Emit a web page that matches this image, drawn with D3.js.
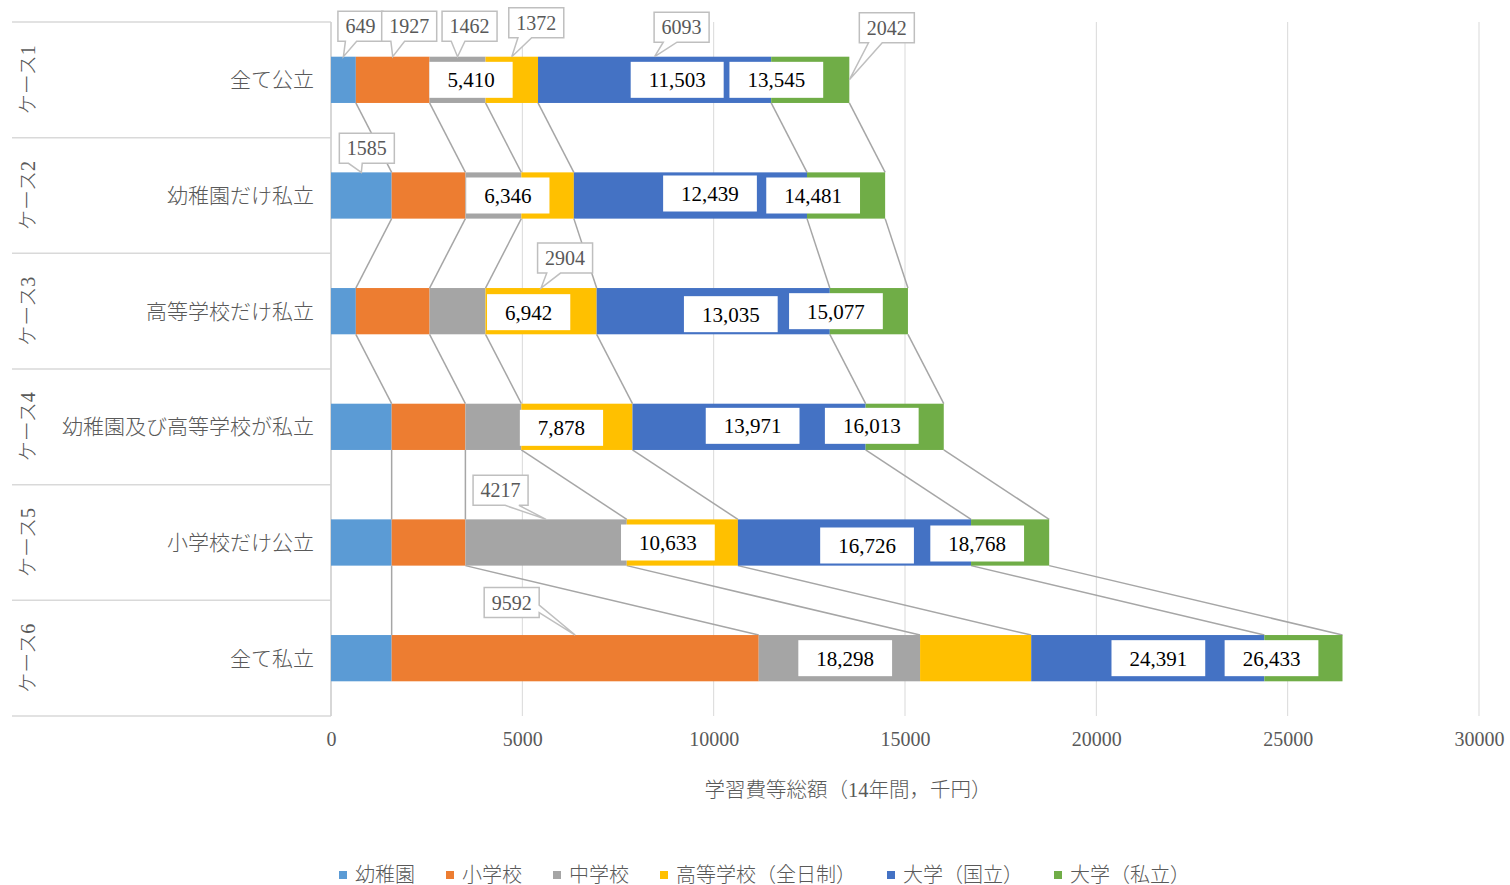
<!DOCTYPE html>
<html>
<head>
<meta charset="utf-8">
<script src="https://cdn.jsdelivr.net/npm/d3@7"></script>
<style>
  html, body { margin: 0; padding: 0; background: #fff; }
  svg text { font-family: 'Liberation Serif', 'Times New Roman', 'Noto Sans CJK JP', serif; }
  .jp { font-weight: 300; }
</style>
</head>
<body>
<svg id="chart" width="1510" height="885"></svg>
<script>
// ---- data ----
const caseIds   = ["ケース1", "ケース2", "ケース3", "ケース4", "ケース5", "ケース6"];
const caseNames = ["全て公立", "幼稚園だけ私立", "高等学校だけ私立", "幼稚園及び高等学校が私立", "小学校だけ公立", "全て私立"];
const seriesNames = ["幼稚園", "小学校", "中学校", "高等学校（全日制）", "大学（国立）", "大学（私立）"];

// cost per stage, thousand yen (one entry per case)
const kindergarten = [649, 1585, 649, 1585, 1585, 1585];
const elementary   = [1927, 1927, 1927, 1927, 1927, 9592];
const juniorHigh   = [1462, 1462, 1462, 1462, 4217, 4217];
const highSchool   = [1372, 1372, 2904, 2904, 2904, 2904];
const univNational = [6093, 6093, 6093, 6093, 6093, 6093];
const univPrivate  = [2042, 2042, 2042, 2042, 2042, 2042];

const xTicks = [0, 5000, 10000, 15000, 20000, 25000, 30000];
const xTitle = "学習費等総額（14年間，千円）";

// ---- styling / layout ----
const colors = ["#5B9BD5", "#ED7D31", "#A5A5A5", "#FFC000", "#4472C4", "#70AD47"];
const seriesValues = [kindergarten, elementary, juniorHigh, highSchool, univNational, univPrivate];

// running-total labels are shown for these series (boxed, inside the bar)
const totalLabelSeries = [3, 4, 5];
const totalLabelDx = [
  [-67, -94, -73],
  [-66, -97, -72],
  [-68, -99, -72],
  [-71, -113, -72],
  [-70, -104, -72],
  [-186, -106, -71]
];
const totalLabelDy = [
  [0, 0, 0],
  [0, -2, 0],
  [1, 3, 0],
  [1, -1, -1],
  [0, 3, 1],
  [0, 0, 0]
];

// callouts for single-segment values: case, series, anchor point, box offset from anchor
const callouts = [
  { c: 0, s: 0, at: "top", dx: 17,    dy: -30.5 },
  { c: 0, s: 1, at: "top", dx: 16.5,  dy: -30.5 },
  { c: 0, s: 2, at: "top", dx: 12,    dy: -30.5 },
  { c: 0, s: 3, at: "top", dx: 24.5,  dy: -34 },
  { c: 0, s: 4, at: "top", dx: 27,    dy: -29.5 },
  { c: 0, s: 5, at: "end", dx: 37.5,  dy: -52 },
  { c: 1, s: 0, at: "top", dx: 5.5,   dy: -24 },
  { c: 2, s: 3, at: "top", dx: 24,    dy: -30 },
  { c: 4, s: 2, at: "top", dx: -45.5, dy: -29 },
  { c: 5, s: 1, at: "top", dx: -63.5, dy: -32.5 }
];

const svg = d3.select("#chart");
const plotTop = 22, plotBottom = 716, plotLeft = 331, plotRight = 1479;
const textGray = "#595959";

const table = caseIds.map((id, i) => {
  const row = { id };
  seriesNames.forEach((s, k) => row[s] = seriesValues[k][i]);
  return row;
});
const stacked = d3.stack().keys(seriesNames)(table);

const x = d3.scaleLinear().domain([0, 30000]).range([plotLeft, plotRight]);
const y = d3.scaleBand().domain(caseIds).range([plotTop, plotBottom])
  .paddingInner(0.6).paddingOuter(0.3);
const bw = y.bandwidth();
const step = y.step();
const bandCenter = id => y(id) + bw / 2;

// vertical gridlines
svg.append("g").selectAll("line").data(xTicks).join("line")
  .attr("x1", d => x(d)).attr("x2", d => x(d))
  .attr("y1", plotTop).attr("y2", plotBottom)
  .attr("stroke", "#d9d9d9").attr("stroke-width", 1);

// category separators of the two-level axis
svg.append("g").selectAll("line").data(d3.range(caseIds.length + 1)).join("line")
  .attr("x1", 12).attr("x2", plotLeft)
  .attr("y1", i => plotTop + i * step).attr("y2", i => plotTop + i * step)
  .attr("stroke", "#d9d9d9").attr("stroke-width", 1.5);
svg.append("line")
  .attr("x1", plotLeft).attr("x2", plotLeft)
  .attr("y1", plotTop).attr("y2", plotBottom)
  .attr("stroke", "#d0d0d0").attr("stroke-width", 1.5);

// series lines joining segment ends of consecutive bars
const connectors = [];
stacked.forEach(layer => {
  for (let i = 0; i < layer.length - 1; i++) {
    connectors.push({ a: layer[i], b: layer[i + 1] });
  }
});
svg.append("g").selectAll("line").data(connectors).join("line")
  .attr("x1", d => x(d.a[1])).attr("y1", d => y(d.a.data.id) + bw)
  .attr("x2", d => x(d.b[1])).attr("y2", d => y(d.b.data.id))
  .attr("stroke", "#a6a6a6").attr("stroke-width", 1.5);

// stacked bars
svg.append("g").selectAll("g").data(stacked).join("g")
  .attr("fill", (d, k) => colors[k])
  .selectAll("rect").data(d => d).join("rect")
  .attr("x", d => x(d[0]))
  .attr("width", d => x(d[1]) - x(d[0]))
  .attr("y", d => y(d.data.id))
  .attr("height", bw);

// boxed running totals
const fmt = d3.format(",");
const totals = [];
caseIds.forEach((id, i) => {
  totalLabelSeries.forEach((k, j) => {
    const end = stacked[k][i][1];
    totals.push({
      text: fmt(end),
      cx: x(end) + totalLabelDx[i][j],
      cy: bandCenter(id) + totalLabelDy[i][j]
    });
  });
});
const tg = svg.append("g").selectAll("g").data(totals).join("g")
  .attr("transform", d => `translate(${d.cx},${d.cy})`);
tg.append("rect").attr("fill", "#fff");
tg.append("text")
  .attr("text-anchor", "middle").attr("dy", "0.35em")
  .attr("font-size", 21).attr("fill", "#000")
  .text(d => d.text);
tg.each(function () {
  const g = d3.select(this);
  const w = g.select("text").node().getComputedTextLength() + 36;
  g.select("rect").attr("x", -w / 2).attr("y", -18).attr("width", w).attr("height", 36);
});

// callout for segment values
function calloutPath(bx, by, w, h, tx, ty) {
  const hc = bx + w / 2, vc = by + h / 2;
  const dx = tx - hc, dy = ty - vc;
  const dq = dx * h / w;
  const dz = Math.abs(dy) - Math.abs(dq);
  const x1 = bx + w * (dx > 0 ? 7 : 2) / 12, x2 = bx + w * (dx > 0 ? 10 : 5) / 12;
  const y1 = by + h * (dy > 0 ? 7 : 2) / 12, y2 = by + h * (dy > 0 ? 10 : 5) / 12;
  const p = d3.path();
  p.moveTo(bx, by);
  if (dz > 0 && dy < 0) { p.lineTo(x1, by); p.lineTo(tx, ty); p.lineTo(x2, by); }
  p.lineTo(bx + w, by);
  if (dz <= 0 && dx > 0) { p.lineTo(bx + w, y1); p.lineTo(tx, ty); p.lineTo(bx + w, y2); }
  p.lineTo(bx + w, by + h);
  if (dz > 0 && dy > 0) { p.lineTo(x2, by + h); p.lineTo(tx, ty); p.lineTo(x1, by + h); }
  p.lineTo(bx, by + h);
  if (dz <= 0 && dx < 0) { p.lineTo(bx, y2); p.lineTo(tx, ty); p.lineTo(bx, y1); }
  p.closePath();
  return p.toString();
}

const cg = svg.append("g");
callouts.forEach(co => {
  const seg = stacked[co.s][co.c];
  const id = caseIds[co.c];
  const tip = co.at === "end"
    ? [x(seg[1]), bandCenter(id)]
    : [(x(seg[0]) + x(seg[1])) / 2, y(id)];
  const cx = tip[0] + co.dx, cy = tip[1] + co.dy;
  const g = cg.append("g");
  const path = g.append("path").attr("fill", "#fff").attr("stroke", "#bfbfbf").attr("stroke-width", 1.5);
  const t = g.append("text")
    .attr("x", cx).attr("y", cy).attr("dy", "0.35em")
    .attr("text-anchor", "middle").attr("font-size", 20).attr("fill", textGray)
    .text(seriesValues[co.s][co.c]);
  const w = t.node().getComputedTextLength() + 15, h = 30;
  path.attr("d", calloutPath(cx - w / 2, cy - h / 2, w, h, tip[0], tip[1]));
});

// inner category labels
svg.append("g").selectAll("text").data(caseIds).join("text")
  .attr("class", "jp")
  .attr("x", 314).attr("y", d => bandCenter(d)).attr("dy", "0.35em")
  .attr("text-anchor", "end").attr("font-size", 21).attr("fill", textGray)
  .text((d, i) => caseNames[i]);

// outer category labels (rotated)
svg.append("g").selectAll("text").data(caseIds).join("text")
  .attr("class", "jp")
  .attr("transform", d => `translate(28,${bandCenter(d)}) rotate(-90)`)
  .attr("dy", "0.35em").attr("text-anchor", "middle")
  .attr("font-size", 20).attr("fill", textGray)
  .text(d => d);

// value axis
const axis = svg.append("g")
  .attr("transform", `translate(0,${plotBottom})`)
  .call(d3.axisBottom(x).tickValues(xTicks).tickFormat(d3.format("d")).tickSize(0).tickPadding(16));
axis.select(".domain").remove();
axis.selectAll("text")
  .attr("font-size", 20).attr("fill", textGray)
  .style("font-family", "'Liberation Serif', 'Times New Roman', serif");

svg.append("text")
  .attr("class", "jp")
  .attr("x", 848).attr("y", 790).attr("dy", "0.35em")
  .attr("text-anchor", "middle").attr("font-size", 20.5).attr("fill", textGray)
  .text(xTitle);

// legend
const legend = svg.append("g").attr("transform", "translate(339,875)");
let lx = 0;
seriesNames.forEach((name, k) => {
  const g = legend.append("g").attr("transform", `translate(${lx},0)`);
  g.append("rect").attr("x", 0).attr("y", -4).attr("width", 8).attr("height", 8).attr("fill", colors[k]);
  const t = g.append("text").attr("class", "jp").attr("x", 16).attr("dy", "0.35em")
    .attr("font-size", 20).attr("fill", textGray).text(name);
  lx += 16 + t.node().getComputedTextLength() + 31;
});
</script>
</body>
</html>
